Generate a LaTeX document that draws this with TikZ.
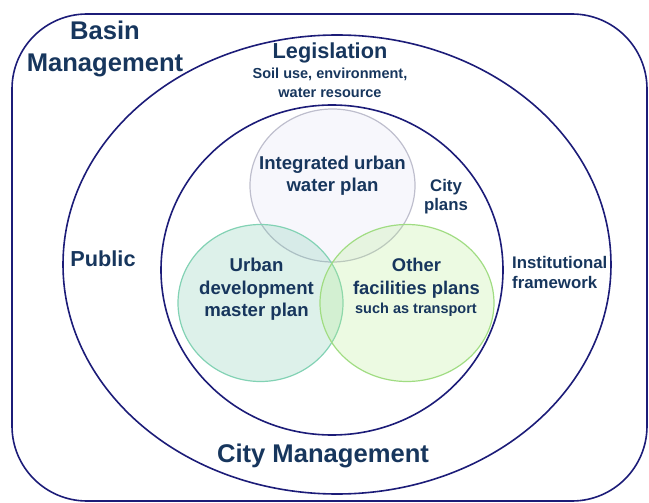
\documentclass[tikz,border=0pt]{standalone}
\usepackage{fontspec}
\setmainfont{Liberation Sans}
\usetikzlibrary{shapes.geometric}
\usetikzlibrary{positioning}
\definecolor{ringblue}{RGB}{28,28,120}
\definecolor{txtblue}{RGB}{23,54,93}
\definecolor{waterfill}{RGB}{225,225,245}
\definecolor{waterline}{RGB}{190,190,205}
\definecolor{urbanfill}{RGB}{120,200,170}
\definecolor{urbanline}{RGB}{130,210,180}
\definecolor{otherfill}{RGB}{180,235,140}
\definecolor{otherline}{RGB}{160,220,130}
\tikzset{
    ring/.style = {ellipse, draw=ringblue, line width=1.6pt, inner sep=0pt},
    plan/.style = {ellipse, line width=1.2pt, inner sep=0pt, fill opacity=0.25},
    bigtxt/.style = {text=txtblue, align=center, inner sep=0pt, font=\bfseries\fontsize{25.6}{32}\selectfont},
    midtxt/.style = {text=txtblue, align=center, inner sep=0pt, font=\bfseries\fontsize{21.7}{26}\selectfont},
    plantxt/.style = {text=txtblue, align=center, inner sep=0pt, font=\bfseries\fontsize{18.6}{22.5}\selectfont},
    sidetxt/.style = {text=txtblue, inner sep=0pt, font=\bfseries\fontsize{16.8}{20}\selectfont},
    smalltxt/.style = {text=txtblue, align=center, inner sep=0pt, font=\bfseries\fontsize{14.5}{19}\selectfont}
}
\begin{document}
\begin{tikzpicture}[x=1pt, y=-1pt]
  \useasboundingbox (0,0) rectangle (649,503);
  % outer frame and the two rings
  \draw[draw=ringblue, line width=1.6pt, rounded corners=75pt] (12,14) rectangle (647,501);
  \node[ring, minimum width=548pt, minimum height=459pt] (legis) at (337,264.5) {};
  \node[ring, minimum width=342pt, minimum height=330pt] (city) at (332,270) {};

  % the three plans
  \node[plan, fill=waterfill, draw=waterline, minimum width=165pt, minimum height=153pt] (water) at (332.5,185.5) {};
  \node[plan, fill=urbanfill, draw=urbanline, minimum width=165pt, minimum height=157pt] (urban) at (260.5,303) {};
  \node[plan, fill=otherfill, draw=otherline, minimum width=174pt, minimum height=157pt] (other) at (407,303) {};

  \node[bigtxt] (basin) at (105,49) {Basin\\Management};
  \node[midtxt] (legtitle) at (330,53) {Legislation};
  \node[smalltxt] (soil) at (330,83) {Soil use, environment,\\water resource};
  \node[midtxt] (public) at (103,259) {Public};
  \node[sidetxt, align=left, anchor=west] (inst) at (512,272) {Institutional\\framework};
  \node[sidetxt, align=center, font=\bfseries\fontsize{16.8}{19.5}\selectfont] (cityplans) at (446,196.5) {City\\plans};
  \node[plantxt, font=\bfseries\fontsize{18.6}{22}\selectfont] (watertxt) at (332.5,176) {Integrated urban\\water plan};
  \node[plantxt] (urbantxt) at (256.5,289.5) {Urban\\development\\master plan};
  \node[plantxt, font=\bfseries\fontsize{18.4}{23}\selectfont] (othertxt) at (416.5,278.5) {Other\\facilities plans};
  \node[smalltxt] (transport) at (416,310) {such as transport};
  \node[bigtxt] (citymgmt) at (323,456) {City Management};
\end{tikzpicture}
\end{document}
